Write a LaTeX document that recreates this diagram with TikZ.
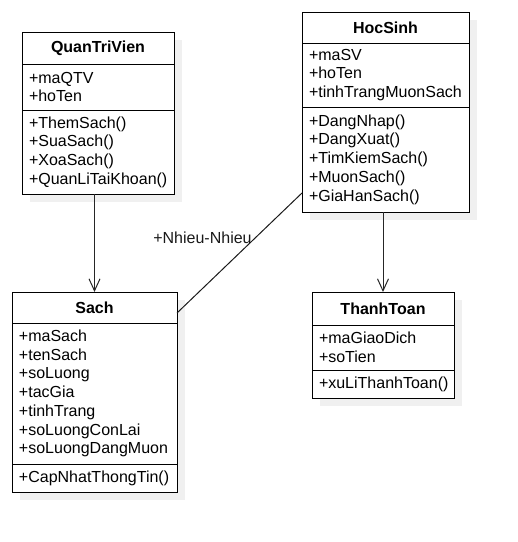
\documentclass[tikz,border=0pt]{standalone}
\usepackage{fontspec}
\setmainfont{Liberation Sans}
\usetikzlibrary{positioning,arrows.meta,shadows}
\tikzset{
	umlfont/.style={font=\fontsize{16}{18.7}\selectfont}, % drawio-like text size
	cls/.style={draw, fill=white, line width=1pt, anchor=north west, outer sep=0pt,
		drop shadow={shadow xshift=8pt, shadow yshift=-8pt, fill=gray!12, opacity=1}},
	ctitle/.style={cls, inner sep=0pt, align=center, font=\fontsize{16}{18.7}\selectfont\bfseries},
	cbody/.style={cls, inner xsep=7pt, inner ysep=0pt, align=left}
}

\begin{document}
\begin{tikzpicture}[x=1pt,y=-1pt,
            every node/.style={umlfont},
            dep/.style={line width=1pt, black!85, -{Straight Barb[length=12pt,width=11pt]}},
            assoc/.style={line width=1pt, black!90},
            lbl/.style={anchor=east, inner sep=3pt}
        ]
            \useasboundingbox (0,0) rectangle (518,542);
            % QuanTriVien
            \node[ctitle, text width=152pt, minimum height=32pt] (qtv-t) at (22,32) {QuanTriVien};
            \node[cbody, text width=138pt, minimum height=46pt] (qtv-a) at (qtv-t.south west) {+maQTV\\+hoTen};
            \node[cbody, text width=138pt, minimum height=84pt] (qtv-m) at (qtv-a.south west)
                {+ThemSach()\\+SuaSach()\\+XoaSach()\\+QuanLiTaiKhoan()};
            % HocSinh
            \node[ctitle, text width=167pt, minimum height=31pt] (hs-t) at (302,12) {HocSinh};
            \node[cbody, text width=153pt, minimum height=64pt] (hs-a) at (hs-t.south west)
                {+maSV\\+hoTen\\+tinhTrangMuonSach};
            \node[cbody, text width=153pt, minimum height=105pt] (hs-m) at (hs-a.south west)
                {+DangNhap()\\+DangXuat()\\+TimKiemSach()\\+MuonSach()\\+GiaHanSach()};
            % Sach
            \node[ctitle, text width=165pt, minimum height=31pt] (sach-t) at (12,292) {Sach};
            \node[cbody, text width=151pt, minimum height=141pt] (sach-a) at (sach-t.south west)
                {+maSach\\+tenSach\\+soLuong\\+tacGia\\+tinhTrang\\+soLuongConLai\\+soLuongDangMuon};
            \node[cbody, text width=151pt, minimum height=28pt] (sach-m) at (sach-a.south west) {+CapNhatThongTin()};
            % ThanhToan
            \node[ctitle, text width=142pt, minimum height=33pt] (tt-t) at (312,292) {ThanhToan};
            \node[cbody, text width=128pt, minimum height=45pt] (tt-a) at (tt-t.south west) {+maGiaoDich\\+soTien};
            \node[cbody, text width=128pt, minimum height=28pt] (tt-m) at (tt-a.south west) {+xuLiThanhToan()};

            \draw[dep] (sach-t.north |- qtv-m.south) -- (sach-t.north);
            \draw[dep] (tt-t.north |- hs-m.south) -- (tt-t.north);
            \draw[assoc] ([yshift=19pt]hs-m.south west) --
                node[lbl, pos=0.375] {+Nhieu-Nhieu} ([yshift=-5.5pt]sach-t.east);
        \end{tikzpicture}
\end{document}
